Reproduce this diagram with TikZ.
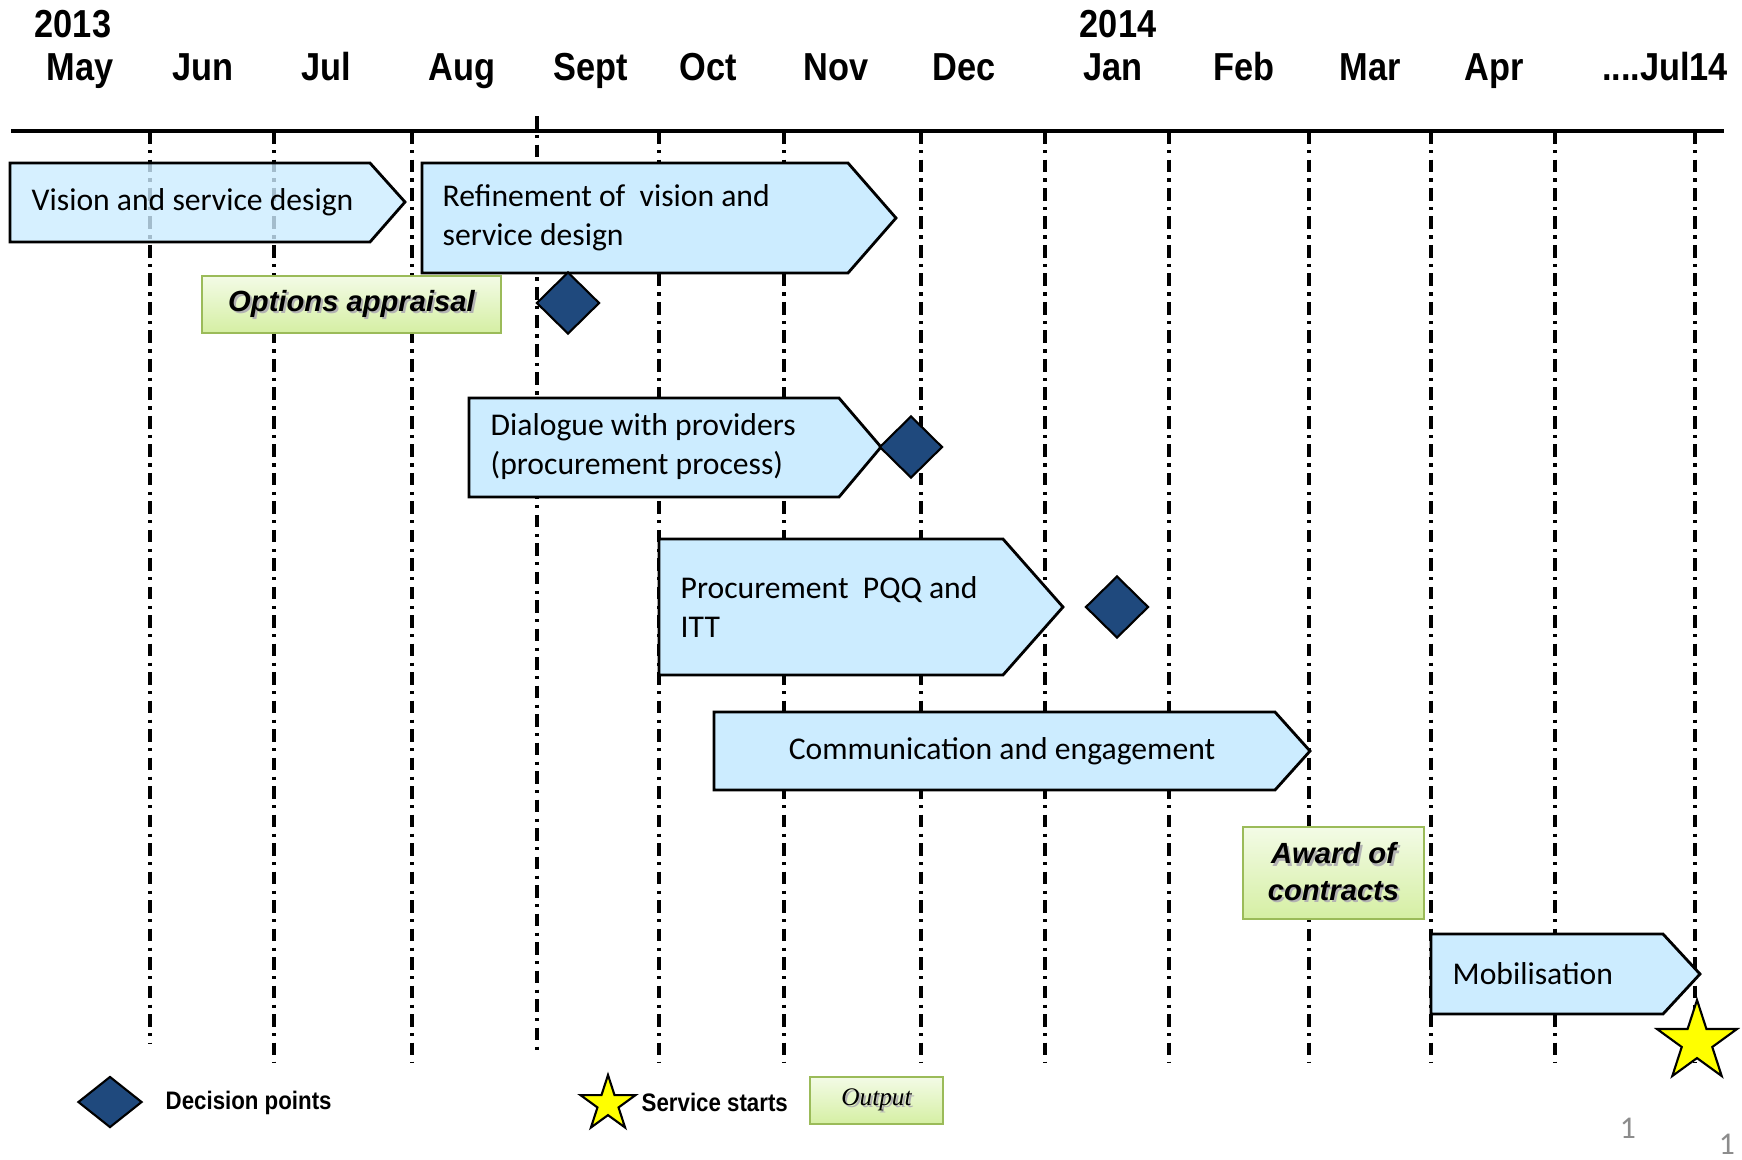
\documentclass[tikz,border=0pt]{standalone}
\usepackage{fontspec}
\setmainfont{Carlito}
\newfontfamily\headfont{Liberation Sans}[FakeStretch=0.88]
\newfontfamily\tagfont{Liberation Sans}
\newfontfamily\outfont{Liberation Serif}
\usetikzlibrary{shapes.geometric}

\definecolor{barblue}{HTML}{CCECFF}
\definecolor{decblue}{HTML}{1F497D}
\definecolor{outline}{HTML}{9BBB59}
\definecolor{outtop}{HTML}{F3FBE6}
\definecolor{outbot}{HTML}{D5EFA3}
\definecolor{starfill}{HTML}{FFFF00}

\newcommand\castshadow[1]{\leavevmode\rlap{\kern0.6pt\raisebox{-0.6pt}{\textcolor{black!30}{#1}}}#1}

\begin{document}
\begin{tikzpicture}[x=0.01cm, y=-0.01cm,
    month/.style={font=\headfont\bfseries\fontsize{11.1}{13}\selectfont, anchor=base, inner sep=0pt},
    monthline/.style={line width=1pt, dash pattern=on 3.6pt off 1.8pt on 0.9pt off 1.8pt},
    phasebar/.style={draw, line width=0.8pt, fill=barblue, line join=miter},
    phasetext/.style={anchor=west, align=left, inner sep=0pt, font=\fontsize{9}{11.1}\selectfont},
    outputbox/.style={draw=outline, line width=0.8pt, top color=outtop, bottom color=outbot, inner sep=0pt},
    outtext/.style={font=\tagfont\bfseries\itshape\fontsize{8.3}{10.5}\selectfont, align=center},
    legendtext/.style={font=\headfont\bfseries\fontsize{7.2}{9}\selectfont, anchor=west, inner sep=0pt},
    decision/.style={diamond, draw, line width=0.6pt, fill=decblue, inner sep=0pt, minimum width=0.63cm, minimum height=0.62cm},
    golive/.style={star, star points=5, star point ratio=2.618, draw, line width=0.6pt, fill=starfill, inner sep=0pt}]

      \useasboundingbox (0,0) rectangle (1742,1159);

      % years and months
      \node[month] (y2013) at (73,37) {2013};
      \node[month] (y2014) at (1118,37) {2014};
      \foreach \x/\m [count=\i] in {80/May, 203/Jun, 326/Jul, 462/Aug, 591/Sept, 708/Oct, 836/Nov, 964/Dec, 1113/Jan, 1244/Feb, 1370/Mar, 1494/Apr} {
      \node[month] (month\i) at (\x,80) {\m};
      }
      \node[month] (month13) at (1665,80) {....Jul14};

      \draw[line width=1pt] (11,131) -- (1724,131);

      % month boundaries
      \foreach \x in {274, 412, 659, 784, 921, 1045, 1169, 1309, 1431, 1555, 1695} {
      \draw[monthline] (\x,131) -- (\x,1063);
      }
      \draw[monthline] (150,131) -- (150,1043);
      \draw[monthline] (537,116) -- (537,1050);

      % phases
      \draw[phasebar, fill opacity=0.8] (10,163) -- (370,163) -- (405,202) -- (370,242) -- (10,242) -- cycle;
      \node[phasetext] (vision) at (31,202) {Vision and service design};

      \draw[phasebar] (422,163) -- (848,163) -- (896,218) -- (848,273) -- (422,273) -- cycle;
      \node[phasetext] (refine) at (442,218) {Refinement of~ vision and\\service design};

      \node[outputbox, minimum width=2.99cm, minimum height=0.57cm, outtext] (options) at (351.5,304.5) {\castshadow{Options appraisal}};
      \node[decision] (dec1) at (568,303) {};

      \draw[phasebar] (469,398) -- (839,398) -- (881,447) -- (839,497) -- (469,497) -- cycle;
      \node[phasetext] (dialogue) at (490,447) {Dialogue with providers\\(procurement process)};
      \node[decision] (dec2) at (911,447) {};

      \draw[phasebar] (659,539) -- (1003,539) -- (1063,607) -- (1003,675) -- (659,675) -- cycle;
      \node[phasetext] (pqq) at (680,607) {Procurement~ PQQ and\\ITT};
      \node[decision] (dec3) at (1117,607) {};

      \draw[phasebar] (714,712) -- (1275,712) -- (1310,751) -- (1275,790) -- (714,790) -- cycle;
      \node[phasetext, anchor=center] (comms) at (1002,751) {Communication and engagement};

      \node[outputbox, minimum width=1.81cm, minimum height=0.92cm, outtext] (award) at (1333.5,873) {\castshadow{Award of}\\\castshadow{contracts}};

      \draw[phasebar] (1431,934) -- (1663,934) -- (1700,974) -- (1663,1014) -- (1431,1014) -- cycle;
      \node[phasetext] (mobilise) at (1452,974) {Mobilisation};

      \node[golive, minimum size=0.84cm] (start) at (1697,1042) {};

      % key
      \node[decision, minimum width=0.64cm, minimum height=0.51cm] (deckey) at (110,1102) {};
      \node[legendtext] (declabel) at (165,1103) {Decision points};
      \node[golive, minimum size=0.58cm] (startkey) at (608,1104) {};
      \node[legendtext] (startlabel) at (641,1102) {Service starts};
      \node[outputbox, minimum width=1.33cm, minimum height=0.47cm] (outkey) at (876.5,1100.5) {\outfont\itshape\fontsize{7.2}{8}\selectfont\castshadow{Output}};

      \node[text=black!45, font=\fontsize{9}{10}\selectfont, inner sep=1pt] (page1) at (1628,1128) {1};
      \node[text=black!45, font=\fontsize{9}{10}\selectfont, inner sep=1pt] (page2) at (1727,1144) {1};

    \end{tikzpicture}
\end{document}
